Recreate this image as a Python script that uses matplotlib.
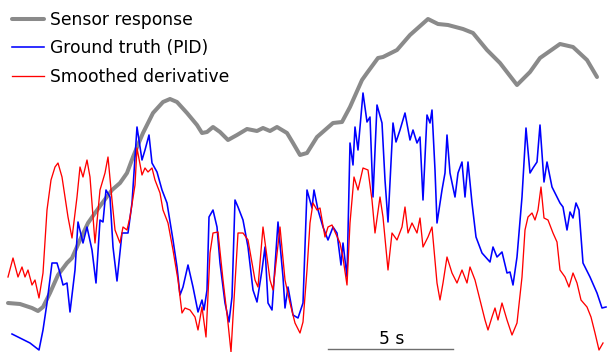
import numpy as np
import matplotlib
matplotlib.use("Agg")
import matplotlib.pyplot as plt

# frame rate used to turn frame numbers into seconds
FPS = 25.0

# Sensor response (frame, amplitude a.u.)
sensor_frames = [8, 20, 32, 38, 43, 50, 58, 67, 72, 80, 88, 95, 103, 112, 120, 127,
                 133, 140, 143, 153, 163, 170, 177, 187, 197, 202, 207, 213, 220, 228,
                 237, 247, 257, 263, 270, 277, 287, 293, 300, 307, 317, 333, 342, 350,
                 362, 367, 378, 383, 397, 410, 428, 438, 448, 463, 473, 487, 500, 517,
                 530, 540, 560, 573, 587, 597]
sensor_vals = [49, 48, 44, 41, 45, 59, 77, 89, 94, 112, 129, 139, 150, 162, 169, 179,
               195, 212, 219, 239, 250, 253, 250, 239, 227, 219, 220, 225, 220, 212,
               217, 223, 221, 224, 221, 225, 219, 209, 197, 199, 215, 229, 230, 245,
               272, 279, 294, 295, 302, 317, 333, 328, 327, 323, 319, 302, 289, 267,
               280, 294, 308, 305, 292, 275]

# Ground truth (PID)
pid_frames = [12, 20, 30, 39, 43, 47, 52, 57, 60, 63, 67, 70, 75, 78, 83, 87, 92, 96,
              100, 103, 106, 110, 113, 117, 122, 125, 128, 132, 137, 142, 145, 149,
              152, 157, 162, 167, 173, 177, 180, 183, 188, 193, 198, 202, 204, 207,
              209, 213, 217, 220, 225, 229, 232, 235, 238, 243, 248, 253, 257, 262,
              265, 268, 272, 278, 283, 285, 288, 293, 298, 303, 307, 312, 314, 318,
              323, 328, 333, 337, 341, 343, 347, 350, 353, 355, 358, 363, 367, 370,
              373, 377, 382, 385, 388, 393, 396, 400, 405, 410, 413, 417, 420, 423,
              427, 430, 432, 435, 437, 442, 445, 447, 450, 455, 458, 462, 465, 468,
              472, 476, 482, 490, 493, 497, 502, 507, 510, 513, 517, 522, 526, 530,
              533, 537, 540, 544, 547, 552, 560, 563, 567, 570, 573, 576, 579, 583,
              590, 597, 602, 606]
pid_vals = [18, 14, 9, 2, 22, 49, 89, 89, 79, 67, 69, 40, 82, 130, 109, 125, 102, 69,
            132, 130, 162, 155, 105, 71, 119, 119, 119, 149, 225, 192, 202, 217,
            189, 180, 162, 149, 112, 85, 57, 65, 87, 65, 40, 52, 42, 62,
            135, 142, 125, 89, 49, 30, 55, 152, 145, 132, 105, 62, 50, 82,
            105, 49, 42, 130, 75, 44, 65, 37, 34, 49, 162, 144, 162, 142,
            125, 112, 125, 119, 87, 109, 75, 209, 187, 225, 202, 259, 230, 235,
            155, 247, 229, 172, 130, 229, 210, 222, 239, 212, 222, 209, 215, 152,
            237, 229, 242, 182, 129, 162, 179, 217, 179, 155, 179, 190, 155, 190,
            149, 115, 99, 90, 105, 95, 100, 79, 80, 67, 95, 155, 224, 179,
            184, 190, 227, 170, 190, 165, 149, 145, 122, 140, 134, 149, 142, 89,
            75, 59, 44, 45]

# Smoothed derivative
deriv_frames = [8, 13, 18, 22, 25, 28, 32, 35, 39, 43, 47, 51, 55, 58, 62, 65, 68, 72,
                77, 80, 83, 87, 90, 95, 100, 105, 108, 112, 115, 120, 123, 127, 130,
                135, 137, 142, 145, 148, 152, 155, 160, 163, 168, 173, 178, 182, 185,
                190, 195, 198, 202, 206, 210, 213, 218, 223, 228, 231, 233, 238, 243,
                248, 255, 258, 263, 267, 270, 273, 280, 285, 290, 295, 300, 303, 307,
                310, 313, 317, 320, 325, 328, 332, 335, 340, 343, 347, 350, 354, 358,
                363, 368, 372, 375, 380, 383, 388, 392, 397, 402, 405, 408, 412, 417,
                420, 423, 428, 432, 437, 440, 443, 447, 452, 457, 462, 467, 470, 475,
                480, 485, 488, 492, 495, 498, 502, 507, 512, 517, 522, 525, 528, 532,
                535, 538, 541, 544, 548, 553, 557, 560, 565, 569, 573, 577, 581, 587,
                591, 595, 599, 603]
deriv_vals = [75, 94, 75, 85, 75, 82, 67, 72, 54, 79, 142, 172, 185, 189, 175, 155, 135, 114,
              155, 185, 175, 192, 175, 109, 162, 179, 195, 152, 122, 109, 125, 122, 135,
              167, 204, 177, 184, 180, 184, 172, 159, 142, 129, 102, 72, 39, 44,
              42, 35, 22, 45, 15, 99, 119, 120, 72, 29, 0, 35, 119, 119,
              112, 72, 65, 125, 95, 72, 62, 125, 72, 49, 29, 19, 30, 82,
              129, 149, 142, 144, 115, 125, 127, 120, 109, 94, 67, 129, 175, 162,
              184, 182, 152, 119, 155, 135, 82, 119, 112, 125, 145, 119, 129, 119,
              134, 105, 115, 125, 69, 52, 69, 95, 79, 69, 82, 69, 85, 72,
              52, 32, 22, 35, 44, 32, 49, 32, 17, 29, 75, 122, 135, 139,
              132, 142, 165, 134, 132, 119, 110, 82, 75, 65, 79, 69, 52, 45,
              35, 19, 2, 9]

labels = ["Sensor response", "Ground truth (PID)", "Smoothed derivative"]
scale_bar_len = 5.0  # seconds
scale_bar_start = 13.12  # seconds

fig = plt.figure(figsize=(6.07, 3.52), dpi=100)
ax = fig.add_axes([0, 0, 1, 1])

ax.plot(np.array(sensor_frames) / FPS, sensor_vals, color="#8a8a8a", lw=2.9,
        solid_capstyle="round", solid_joinstyle="round", label=labels[0])
ax.plot(np.array(pid_frames) / FPS, pid_vals, color="#0000ff", lw=1.15,
        solid_joinstyle="round", label=labels[1])
ax.plot(np.array(deriv_frames) / FPS, deriv_vals, color="#ff0000", lw=0.95,
        solid_joinstyle="round", label=labels[2])

# scale bar
ax.plot([scale_bar_start, scale_bar_start + scale_bar_len], [3, 3], color="#6e6e6e", lw=1.0)
ax.text(scale_bar_start + scale_bar_len / 2 + 0.06, 8, "5 s", ha="center", va="baseline",
        fontsize=12.3, color="black")

ax.set_xlim(0, 607 / FPS)
ax.set_ylim(0, 352)
ax.axis("off")

leg = ax.legend(loc="upper left", bbox_to_anchor=(0.0198, 0.97), frameon=False,
                fontsize=12.3, handlelength=1.85, handletextpad=0.35,
                labelspacing=0.63, borderpad=0, borderaxespad=0)

fig.savefig("out.png", dpi=100)
